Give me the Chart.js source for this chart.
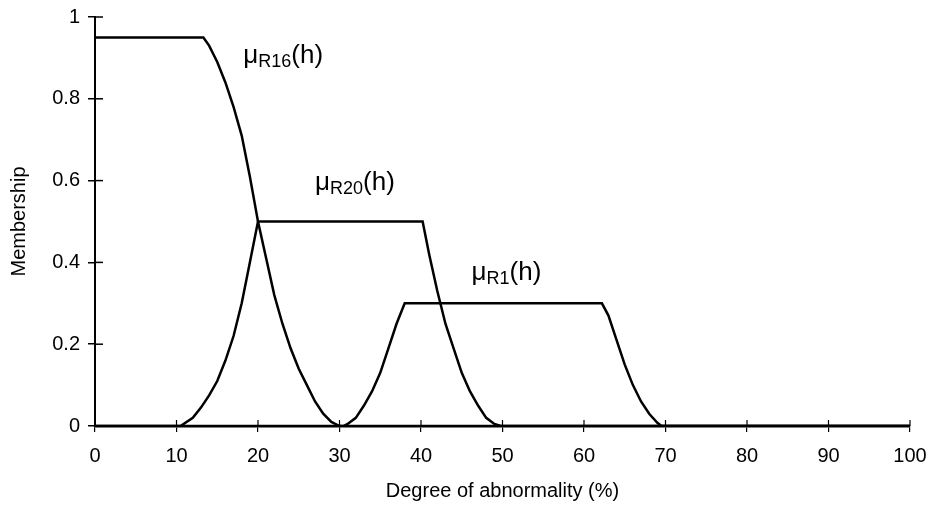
<!DOCTYPE html>
<html><head><meta charset="utf-8">
<script src="https://cdn.jsdelivr.net/npm/chart.js@4/dist/chart.umd.min.js"></script>
<style>html,body{margin:0;padding:0;background:#fff}#wrap{width:935px;height:506px}</style>
</head><body><div id="wrap"><canvas id="c" width="935" height="506"></canvas></div>
<script>
const xTicks = [0,10,20,30,40,50,60,70,80,90,100];
const yTicks = [0,0.2,0.4,0.6,0.8,1];

const r16X = [0,13.3,14,15,16,17,18,19,20,21,22,23,24,25,26,27,28,29,30,100];
const r16Y = [0.95,0.95,0.93,0.89,0.84,0.78,0.71,0.61,0.5,0.41,0.32,0.25,0.19,0.14,0.1,0.06,0.03,0.01,0,0];

const r20X = [0,10.5,12,13,14,15,16,17,18,19,20,40.2,41,42,43,44,45,46,47,48,49,49.8,100];
const r20Y = [0,0,0.02,0.045,0.075,0.11,0.16,0.22,0.3,0.4,0.5,0.5,0.42,0.33,0.25,0.19,0.13,0.085,0.05,0.02,0.005,0,0];

const r1X = [0,30.5,31,32,33,34,35,36,37,38,62.2,63,64,65,66,67,68,69,69.5,100];
const r1Y = [0,0,0.005,0.02,0.05,0.085,0.13,0.19,0.25,0.3,0.3,0.27,0.21,0.15,0.1,0.06,0.03,0.008,0,0];

const labels = [
  {base:'μ', sub:'R16', tail:'(h)', x:18.2, y:0.888},
  {base:'μ', sub:'R20', tail:'(h)', x:27.0, y:0.577},
  {base:'μ', sub:'R1',  tail:'(h)', x:46.2, y:0.357}
];

const pts = (xs, ys) => xs.map((x,i)=>({x:x, y:ys[i]}));
const FONT = '"Liberation Sans", Arial, sans-serif';

const ds = (data) => ({data, borderColor:'#000', borderWidth:2.5, pointRadius:0, showLine:true, tension:0, fill:false});

const deco = {
  id:'deco',
  afterDraw(chart){
    const ctx = chart.ctx, xs = chart.scales.x, ys = chart.scales.y;
    ctx.save();
    ctx.strokeStyle='#000'; ctx.lineWidth=1.5;
    const x0 = xs.getPixelForValue(0);
    yTicks.forEach(v=>{ if(v===0) return; const py = ys.getPixelForValue(v);
      ctx.beginPath(); ctx.moveTo(x0, py); ctx.lineTo(x0+8, py); ctx.stroke(); });
    ctx.lineWidth=1.2;
    const y0 = ys.getPixelForValue(0);
    xTicks.forEach(v=>{ const px = xs.getPixelForValue(v);
      ctx.beginPath(); ctx.moveTo(px, y0-6); ctx.lineTo(px, y0); ctx.stroke(); });
    ctx.fillStyle='#000'; ctx.textBaseline='alphabetic'; ctx.textAlign='left';
    labels.forEach(l=>{
      let px = xs.getPixelForValue(l.x), py = ys.getPixelForValue(l.y);
      ctx.font = '26px '+FONT; ctx.fillText(l.base, px, py); px += ctx.measureText(l.base).width;
      ctx.font = '18px '+FONT; ctx.fillText(l.sub, px, py+4); px += ctx.measureText(l.sub).width;
      ctx.font = '26px '+FONT; ctx.fillText(l.tail, px, py);
    });
    ctx.restore();
  }
};

new Chart(document.getElementById('c'), {
  type:'scatter',
  data:{datasets:[ds(pts(r16X,r16Y)), ds(pts(r20X,r20Y)), ds(pts(r1X,r1Y))]},
  options:{
    responsive:false, animation:false,
    layout:{padding:{top:17, right:25, left:0, bottom:0}},
    plugins:{legend:{display:false}, tooltip:{enabled:false}},
    scales:{
      x:{type:'linear', min:0, max:100,
        afterBuildTicks(s){ s.ticks = xTicks.map(v=>({value:v})); },
        afterFit(s){ s.height = 80; s.paddingLeft = 0; s.paddingRight = 0; },
        grid:{drawOnChartArea:false, drawTicks:true, tickLength:6, color:'#000', lineWidth:1.2},
        border:{display:true, color:'#000', width:2.5},
        ticks:{color:'#000', font:{family:FONT, size:20}, padding:12, maxRotation:0, callback:v=>String(v)},
        title:{display:true, text:'Degree of abnormality (%)', color:'#000', font:{family:FONT, size:20}, padding:{top:0, bottom:3}}
      },
      y:{type:'linear', min:0, max:1,
        afterBuildTicks(s){ s.ticks = yTicks.map(v=>({value:v})); },
        afterFit(s){ s.width = 95; s.paddingTop = 0; s.paddingBottom = 0; },
        grid:{drawOnChartArea:false, drawTicks:true, tickLength:7, color:'#000', lineWidth:1.5},
        border:{display:true, color:'#000', width:2},
        ticks:{color:'#000', font:{family:FONT, size:20}, padding:8, callback:v=>String(v)},
        title:{display:true, text:'Membership', color:'#000', font:{family:FONT, size:20}, padding:{top:7, bottom:0}}
      }
    }
  },
  plugins:[deco]
});
</script></body></html>
